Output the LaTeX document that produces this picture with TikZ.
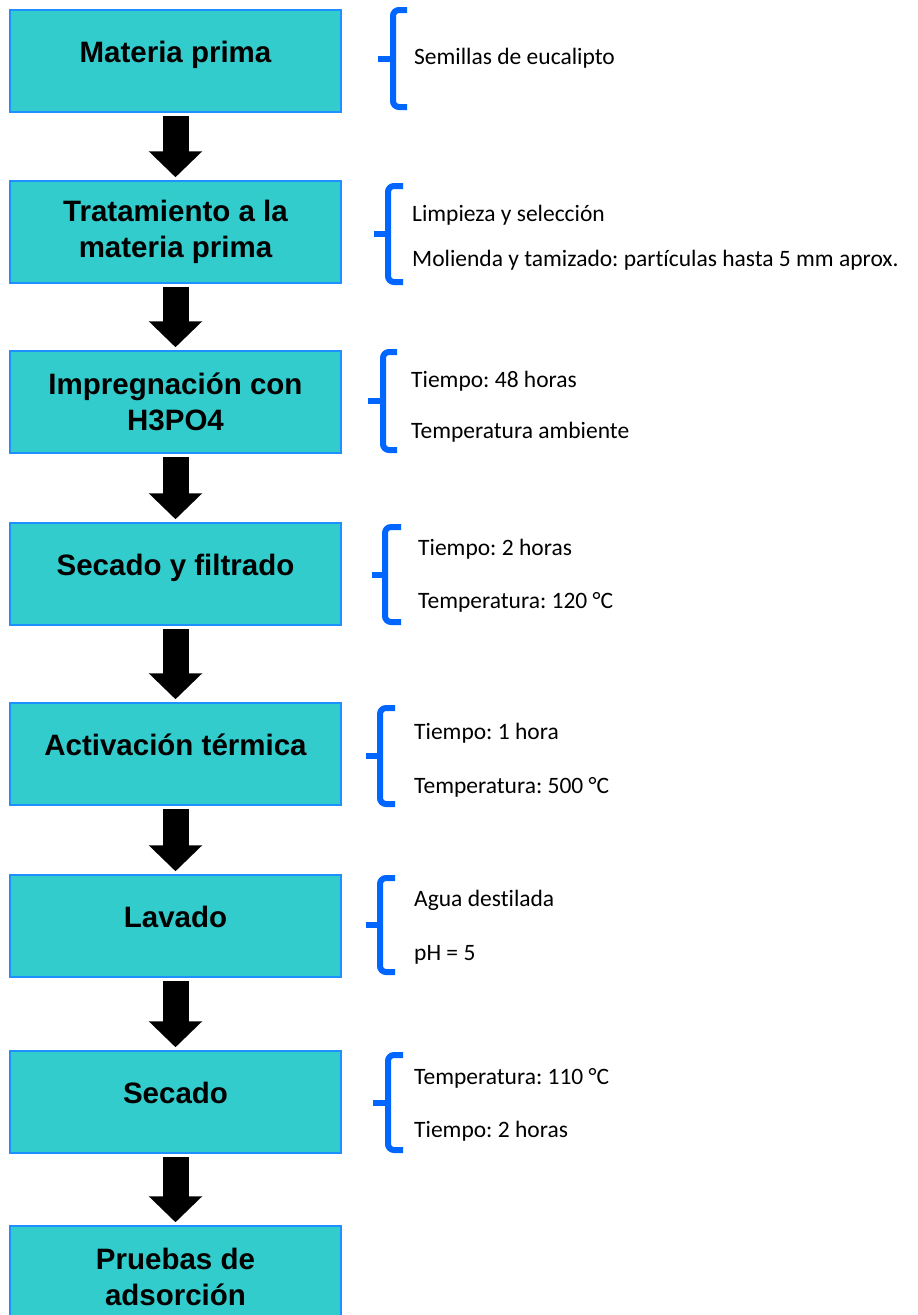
\documentclass[tikz,border=0pt]{standalone}
\usepackage{fontspec}
\setmainfont{Carlito}[Ligatures=NoCommon]
\newfontfamily\boxfont{Liberation Sans}
\usepackage{xcolor}
\usepackage{tikz}
\usetikzlibrary{arrows.meta}
\definecolor{boxcyan}{RGB}{51,204,204}
\definecolor{boxedge}{RGB}{30,144,255}
\definecolor{braceblue}{RGB}{0,102,255}
\frenchspacing

\begin{document}
\begin{tikzpicture}[x=1pt, y=-1pt,
  stepbox/.style={draw=boxedge, line width=1.5pt, fill=boxcyan, minimum width=331pt, minimum height=102pt, inner sep=0pt, align=center, font=\boxfont\bfseries\fontsize{29.5}{36}\selectfont},
  oneline/.style={text height=22pt, text depth=19pt},
  flow/.style={line width=26pt, -{Triangle[length=26pt,width=52pt]}, shorten <=3pt, shorten >=3pt},
  brace/.style={braceblue, line width=6pt, rounded corners=6pt},
  note/.style={anchor=west, inner sep=0pt, text height=16pt, text depth=5pt, font=\fontsize{23.5}{28}\selectfont}]
\useasboundingbox (0,0) rectangle (918,1315);

\node[stepbox, oneline] (raw) at (175.5,61) {Materia prima};
\node[stepbox] (treat) at (175.5,232) {Tratamiento a la\\materia prima};
\node[stepbox] (impreg) at (175.5,402) {Impregnación con\\H3PO4};
\node[stepbox, oneline] (dryfilt) at (175.5,574) {Secado y filtrado};
\node[stepbox, oneline] (activ) at (175.5,754) {Activación térmica};
\node[stepbox, oneline] (wash) at (175.5,926) {Lavado};
\node[stepbox, oneline] (dry) at (175.5,1102) {Secado};
\node[stepbox] (tests) at (175.5,1277) {Pruebas de\\adsorción};

\draw[flow] (raw) -- (treat);
\draw[flow] (treat) -- (impreg);
\draw[flow] (impreg) -- (dryfilt);
\draw[flow] (dryfilt) -- (activ);
\draw[flow] (activ) -- (wash);
\draw[flow] (wash) -- (dry);
\draw[flow] (dry) -- (tests);

\draw[brace] (407,10) -- (393,10) -- (393,107) -- (407,107);
\draw[brace, rounded corners=0pt] (393,58.5) -- (378,58.5);
\draw[brace] (403,186) -- (388,186) -- (388,282) -- (403,282);
\draw[brace, rounded corners=0pt] (388,234) -- (374,234);
\draw[brace] (397,352) -- (383,352) -- (383,450) -- (397,450);
\draw[brace, rounded corners=0pt] (383,401) -- (368,401);
\draw[brace] (401,527) -- (385,527) -- (385,622) -- (401,622);
\draw[brace, rounded corners=0pt] (385,574.5) -- (372,574.5);
\draw[brace] (395,708) -- (380,708) -- (380,804) -- (395,804);
\draw[brace, rounded corners=0pt] (380,756) -- (366,756);
\draw[brace] (395,878) -- (380,878) -- (380,972) -- (395,972);
\draw[brace, rounded corners=0pt] (380,925) -- (366,925);
\draw[brace] (403,1055) -- (388,1055) -- (388,1150) -- (403,1150);
\draw[brace, rounded corners=0pt] (388,1102.5) -- (373,1102.5);

\node[note] (seeds) at (414,59) {Semillas de eucalipto};
\node[note] (clean) at (412,216) {Limpieza y selección};
\node[note] (mill) at (412,261) {Molienda y tamizado: partículas hasta 5 mm aprox.};
\node[note] (time48) at (411,382) {Tiempo: 48 horas};
\node[note] (roomtemp) at (411,433) {Temperatura ambiente};
\node[note] (time2a) at (418,550) {Tiempo: 2 horas};
\node[note] (temp120) at (418,603) {Temperatura: 120 °C};
\node[note] (time1) at (414,734) {Tiempo: 1 hora};
\node[note] (temp500) at (414,788) {Temperatura: 500 °C};
\node[note] (water) at (414,901) {Agua destilada};
\node[note] (ph) at (414,955) {pH = 5};
\node[note] (temp110) at (414,1079) {Temperatura: 110 °C};
\node[note] (time2b) at (414,1132) {Tiempo: 2 horas};
\end{tikzpicture}
\end{document}
